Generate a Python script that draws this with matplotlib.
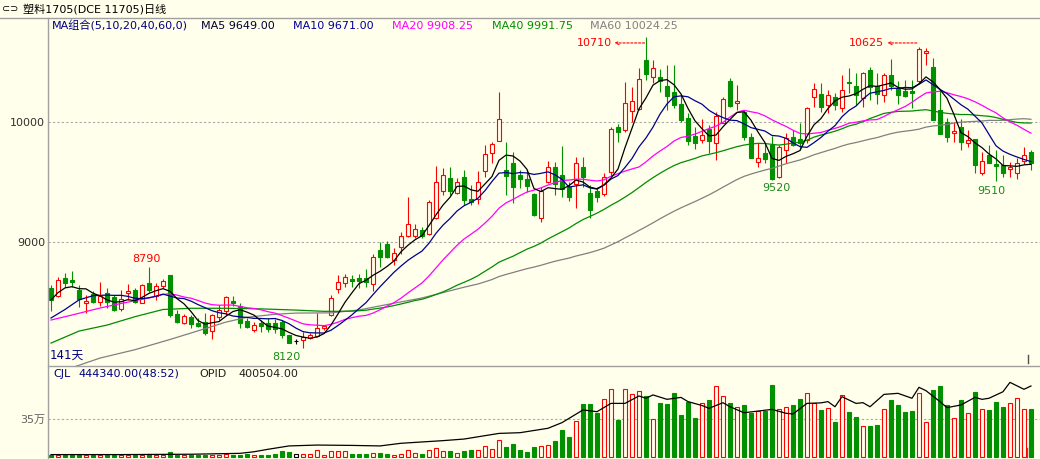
import numpy as np
import pandas as pd
import matplotlib.pyplot as plt
from matplotlib.lines import Line2D

plt.rcParams['font.family'] = ['DejaVu Sans', 'Noto Sans CJK SC']

BG = '#FFFFEB'
RED = '#FF0000'
GREEN = '#009000'
W, H = 1040, 459

# daily OHLC, 141 trading days
opens = [8622, 8553, 8700, 8686, 8603, 8491, 8569, 8505, 8575, 8541,
         8441, 8580, 8603, 8497, 8658, 8553, 8636, 8728, 8403, 8325,
         8375, 8330, 8339, 8264, 8380, 8430, 8514, 8469, 8347, 8269,
         8330, 8330, 8330, 8339, 8228, 8175, 8185, 8199, 8219, 8282,
         8394, 8608, 8657, 8691, 8699, 8699, 8652, 8935, 8985, 8852,
         8958, 9055, 9055, 9102, 9069, 9199, 9430, 9533, 9408, 9541,
         9363, 9357, 9596, 9741, 9846, 9602, 9663, 9560, 9527, 9402,
         9199, 9505, 9630, 9561, 9458, 9486, 9630, 9408, 9427, 9399,
         9588, 9958, 9936, 10094, 10108, 10519, 10375, 10375, 10302, 10250,
         10152, 10033, 9886, 9852, 9941, 9830, 9997, 10347, 10158, 10088,
         9875, 9672, 9741, 9811, 9547, 9769, 9874, 9858, 9852, 10213,
         10236, 10144, 10208, 10116, 10333, 10302, 10200, 10436, 10302, 10227,
         10394, 10283, 10264, 10264, 10347, 10580, 10458, 10103, 10005, 9908,
         9958, 9830, 9858, 9575, 9727, 9653, 9644, 9608, 9575, 9680,
         9755]
highs = [8640, 8714, 8742, 8764, 8644, 8561, 8597, 8672, 8617, 8561,
         8603, 8650, 8617, 8650, 8790, 8664, 8692, 8728, 8436, 8403,
         8394, 8367, 8408, 8403, 8478, 8555, 8555, 8497, 8367, 8339,
         8353, 8367, 8358, 8353, 8228, 8190, 8255, 8241, 8407, 8310,
         8560, 8727, 8735, 8727, 8735, 8775, 8902, 9000, 9010, 8949,
         9088, 9380, 9152, 9130, 9352, 9635, 9621, 9624, 9533, 9602,
         9477, 9596, 9810, 9838, 10252, 9838, 9755, 9602, 9602, 9408,
         9463, 9677, 9672, 9802, 9505, 9713, 9713, 9477, 9463, 9574,
         9963, 9986, 10338, 10297, 10450, 10710, 10519, 10441, 10477, 10477,
         10227, 10075, 9963, 10025, 9977, 10088, 10213, 10366, 10311, 10102,
         9908, 9825, 9825, 9886, 9811, 9908, 9936, 9991, 10130, 10325,
         10330, 10269, 10241, 10394, 10450, 10408, 10422, 10458, 10408, 10408,
         10525, 10347, 10352, 10352, 10625, 10616, 10533, 10269, 10033, 10005,
         10025, 9936, 9858, 9755, 9811, 9769, 9727, 9672, 9700, 9791,
         9769]
lows = [8430, 8540, 8630, 8630, 8458, 8408, 8497, 8469, 8450, 8430,
        8430, 8519, 8497, 8491, 8589, 8519, 8617, 8380, 8330, 8319,
        8283, 8297, 8228, 8191, 8353, 8394, 8469, 8283, 8283, 8255,
        8255, 8255, 8240, 8200, 8160, 8150, 8120, 8191, 8213, 8270,
        8385, 8574, 8624, 8624, 8616, 8630, 8596, 8796, 8866, 8810,
        8902, 9046, 9033, 9033, 9060, 9190, 9394, 9394, 9402, 9310,
        9310, 9319, 9546, 9663, 9846, 9394, 9324, 9449, 9421, 9219,
        9171, 9491, 9394, 9380, 9347, 9283, 9463, 9200, 9338, 9386,
        9547, 9838, 9922, 10005, 10102, 10352, 10325, 10255, 10102, 10116,
        10005, 9811, 9775, 9830, 9741, 9686, 9991, 10130, 10102, 9852,
        9700, 9630, 9658, 9520, 9533, 9658, 9800, 9769, 9825, 10130,
        10088, 10080, 10102, 10088, 10241, 10144, 10130, 10186, 10152, 10172,
        10269, 10152, 10208, 10116, 10325, 10477, 10019, 9900, 9838, 9838,
        9769, 9797, 9580, 9561, 9664, 9510, 9547, 9547, 9525, 9652,
        9603]
closes = [8519, 8686, 8664, 8670, 8528, 8511, 8505, 8553, 8503, 8436,
          8525, 8594, 8505, 8644, 8603, 8636, 8680, 8394, 8339, 8386,
          8316, 8303, 8247, 8394, 8436, 8541, 8497, 8325, 8291, 8311,
          8303, 8275, 8275, 8228, 8164, 8175, 8208, 8227, 8282, 8302,
          8533, 8671, 8713, 8680, 8680, 8671, 8880, 8880, 8880, 8913,
          9052, 9152, 9107, 9052, 9333, 9499, 9560, 9430, 9505, 9352,
          9338, 9499, 9735, 9816, 10027, 9555, 9463, 9524, 9469, 9227,
          9430, 9624, 9486, 9441, 9380, 9658, 9547, 9269, 9374, 9547,
          9941, 9922, 10158, 10180, 10358, 10400, 10450, 10347, 10222, 10144,
          10019, 9847, 9830, 9891, 9847, 10052, 10191, 10136, 10180, 9880,
          9700, 9700, 9691, 9524, 9797, 9866, 9811, 9825, 10116, 10275,
          10130, 10227, 10144, 10269, 10325, 10227, 10408, 10297, 10236, 10394,
          10302, 10227, 10219, 10247, 10608, 10591, 10019, 9902, 9880, 9930,
          9838, 9852, 9644, 9680, 9664, 9636, 9575, 9630, 9658, 9727,
          9658]
volume = [18500, 17200, 19800, 18100, 16900, 18700, 17500, 19200, 18300, 17800,
          19500, 18800, 17600, 18900, 28400, 18200, 19100, 40500, 18600, 19300,
          18700, 17900, 19800, 20500, 18600, 27600, 18900, 19400, 27900, 18800,
          19300, 18200, 28100, 50200, 44300, 22100, 22600, 21800, 59300, 19100,
          53400, 52800, 53100, 24600, 25300, 24800, 34200, 33800, 25100, 16200,
          25400, 61800, 34300, 24900, 62300, 81200, 55800, 56300, 34100, 55900,
          61700, 62400, 99800, 72300, 155600, 94200, 121800, 62100, 47300, 93800,
          100400, 112300, 149600, 253200, 187400, 336800, 489600, 490300, 404800, 540200,
          632700, 346100, 633400, 585900, 617800, 565300, 352400, 498700, 490200, 599100,
          392800, 512300, 365400, 502100, 533200, 663800, 571200, 501900, 468300, 487200,
          405100, 430200, 424300, 673800, 446200, 468100, 487400, 539800, 596200, 502300,
          439800, 455200, 327100, 580300, 421200, 374100, 290300, 289800, 299200, 446100,
          533400, 487100, 415200, 430100, 596300, 327200, 626800, 658100, 487300, 362200,
          533100, 405300, 608200, 446300, 439900, 508100, 462200, 501800, 549300, 446200,
          444340]

# open interest (day index, value)
oi_day = [0, 10, 20, 27, 29, 31, 34, 38, 43, 47, 50, 56, 59, 64, 67, 71, 73, 76,
          78, 80, 82, 84, 85, 86, 88, 90, 91, 93, 94, 96, 97, 99, 103, 105, 106,
          108, 110, 111, 112, 113, 115, 116, 117, 119, 121, 123, 124, 125, 127,
          128, 130, 132, 133, 134, 136, 137, 139, 140]
oi_val = [12000, 12000, 14000, 19000, 28000, 42000, 61000, 66000, 64000, 61000,
          76000, 91000, 100000, 132000, 136000, 161000, 193000, 265000, 255000,
          302000, 302000, 344000, 331000, 350000, 325000, 336000, 312000, 290000,
          274000, 306000, 283000, 249000, 268000, 246000, 242000, 302000, 305000,
          312000, 283000, 340000, 302000, 306000, 283000, 353000, 359000, 331000,
          393000, 374000, 312000, 278000, 293000, 336000, 325000, 331000, 368000,
          421000, 382000, 400504]

# start of each moving average (before the window fills)
ma5_head_day, ma5_head = [0, 1, 2, 3], [8520, 8580, 8620, 8630]
ma10_head_day, ma10_head = [0, 2, 4, 6, 8], [8369, 8440, 8520, 8555, 8560]
ma20_head_day = [0, 3, 7, 10, 14, 16, 17, 18]
ma20_head = [8352, 8394, 8452, 8490, 8536, 8565, 8572, 8560]
ma40_head_day = [0, 4, 8, 12, 16, 20, 25, 30, 35]
ma40_head = [8160, 8260, 8310, 8380, 8440, 8450, 8450, 8445, 8435]
ma60_head_day = [0, 4, 7, 12, 17, 22, 25, 28, 32, 35, 40, 44, 47, 53]
ma60_head = [7900, 7975, 8035, 8105, 8190, 8280, 8335, 8375, 8400, 8410,
             8412, 8436, 8470, 8536]

o = np.array(opens, float)
hi = np.array(highs, float)
lo = np.array(lows, float)
c = np.array(closes, float)
n = len(c)
x = np.arange(n)


def ma_line(win, head_day, head_val):
    full = pd.Series(c).rolling(win).mean().to_numpy()
    return list(head_day) + list(range(win - 1, n)), list(head_val) + list(full[win - 1:])


def fx(px):
    return px / W


def fy(py):
    return 1 - py / H


fig = plt.figure(figsize=(W / 100, H / 100), dpi=100, facecolor=BG)
axp = fig.add_axes([fx(48), fy(366), fx(992), 348 / H], facecolor=BG)
axv = fig.add_axes([fx(48), 0, fx(992), fy(366)], facecolor=BG)
axo = axv.twinx()

edge = np.where(c > o, RED, np.where(c < o, GREEN, 'black'))
face = np.where(c < o, GREEN, BG)

# candles
axp.vlines(x, lo, hi, colors=edge, lw=0.8, zorder=2)
axp.bar(x, np.abs(c - o), bottom=np.minimum(o, c), width=0.62,
        color=face, edgecolor=edge, lw=0.8, zorder=3)

for win, hd, hv, col in [(60, ma60_head_day, ma60_head, '#808080'),
                         (40, ma40_head_day, ma40_head, '#008C00'),
                         (20, ma20_head_day, ma20_head, '#FF00FF'),
                         (10, ma10_head_day, ma10_head, '#000090'),
                         (5, ma5_head_day, ma5_head, 'black')]:
    xs, ys = ma_line(win, hd, hv)
    axp.plot(xs, ys, color=col, lw=0.9, zorder=4)

for lvl in [9000, 10000]:
    axp.axhline(lvl, color='#A8A8A8', lw=0.8, ls=(0, (2, 2)), zorder=1)

axp.set_xlim(-0.43, 141.29)
axp.set_ylim(7969, 10869)
axp.set_xticks([])
axp.set_yticks([9000, 10000])
axp.set_yticklabels(['9000', '10000'])
axp.tick_params(axis='y', length=0, pad=2, labelsize=8, labelcolor='#303030')

# high / low marks
i_hi1, i_hi2 = 85, 124
axp.text(80.1, 10661, f'{hi[i_hi1]:.0f}', color=RED, fontsize=8, ha='right', va='center')
axp.annotate('', xy=(80.5, 10661), xytext=(84.8, 10661),
             arrowprops=dict(arrowstyle='->', color=RED, lw=0.8, ls=(0, (2, 1.5)),
                             mutation_scale=6, shrinkA=0, shrinkB=0))
axp.text(119.0, 10661, f'{hi[i_hi2]:.0f}', color=RED, fontsize=8, ha='right', va='center')
axp.annotate('', xy=(119.5, 10661), xytext=(123.7, 10661),
             arrowprops=dict(arrowstyle='->', color=RED, lw=0.8, ls=(0, (2, 1.5)),
                             mutation_scale=6, shrinkA=0, shrinkB=0))
axp.text(13.7, 8861, f'{hi[14]:.0f}', color=RED, fontsize=8, ha='center', va='center')
axp.text(33.6, 8044, f'{lo[36]:.0f}', color='#1A8A1A', fontsize=8, ha='center', va='center')
axp.text(103.6, 9452, f'{lo[103]:.0f}', color='#1A8A1A', fontsize=8, ha='center', va='center')
axp.text(134.4, 9427, f'{lo[135]:.0f}', color='#1A8A1A', fontsize=8, ha='center', va='center')
axp.text(0.002, 0.03, f'{n}天', transform=axp.transAxes, color='#000080', fontsize=8.5,
         ha='left', va='center')
axp.axvline(139.6, ymin=3 / 348, ymax=11 / 348, color='#505050', lw=1)

# volume + open interest
axv.bar(x, volume, width=0.62, color=face, edgecolor=edge, lw=0.8, zorder=3)
axv.axhline(350000, color='#A8A8A8', lw=0.8, ls=(0, (2, 2)), zorder=1)
axv.set_xlim(-0.43, 141.29)
axv.set_ylim(-21500, 848800)
axv.set_xticks([])
axv.set_yticks([350000])
axv.set_yticklabels(['35万'])
axv.tick_params(axis='y', length=0, pad=2, labelsize=8, labelcolor='#606060')
axo.plot(oi_day, oi_val, color='black', lw=0.9)
axo.set_ylim(-13000, 513800)
axo.set_yticks([])
axv.axvline(139.4, ymin=2 / 93, ymax=11 / 93, color='#606060', lw=1)

for ax in (axp, axv, axo):
    for s in ax.spines.values():
        s.set_visible(False)

# frame lines
fig.add_artist(Line2D([0, 1], [fy(18), fy(18)], transform=fig.transFigure, color='#A0A0A0', lw=1))
fig.add_artist(Line2D([fx(47.5), fx(47.5)], [fy(18), 0], transform=fig.transFigure, color='#A0A0A0', lw=1))
fig.add_artist(Line2D([fx(47.5), 1], [fy(366), fy(366)], transform=fig.transFigure, color='#A0A0A0', lw=1))

# title and headers
fig.text(fx(2), fy(9), '⊂⊃', fontsize=7, color='black', va='center')
fig.text(fx(23), fy(9), '塑料1705(DCE 11705)日线', fontsize=8, color='black', va='center')
for px, txt, col in [(52, 'MA组合(5,10,20,40,60,0)', '#000080'),
                     (201, 'MA5 9649.00', '#000033'),
                     (293, 'MA10 9671.00', '#0000A0'),
                     (392, 'MA20 9908.25', '#FF00FF'),
                     (492, 'MA40 9991.75', '#009000'),
                     (590, 'MA60 10024.25', '#808080')]:
    fig.text(fx(px), fy(26), txt, fontsize=8, color=col, va='center')
for px, txt, col in [(53, 'CJL', '#000080'), (78, '444340.00(48:52)', '#000080'),
                     (199, 'OPID', '#202020'), (238, '400504.00', '#202020')]:
    fig.text(fx(px), fy(374), txt, fontsize=8, color=col, va='center')

fig.savefig('out.png', dpi=100, facecolor=BG)
